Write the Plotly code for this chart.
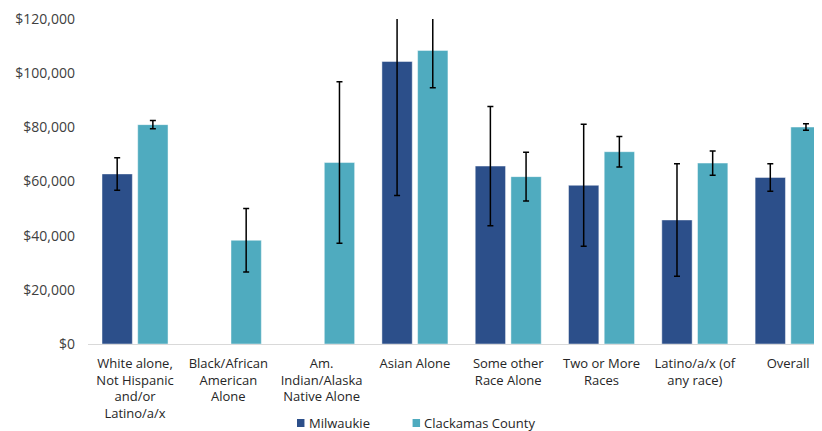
import plotly.graph_objects as go

categories = [
    "White alone,<br>Not Hispanic<br>and/or<br>Latino/a/x",
    "Black/African<br>American<br>Alone",
    "Am.<br>Indian/Alaska<br>Native Alone",
    "Asian Alone",
    "Some other<br>Race Alone",
    "Two or More<br>Races",
    "Latino/a/x (of<br>any race)",
    "Overall",
]
milwaukie = [62800, None, None, 104300, 65700, 58600, 45800, 61500]
milwaukie_err = [6000, None, None, 49500, 22000, 22500, 20800, 5100]
clackamas = [81000, 38300, 67000, 108400, 61800, 71000, 66800, 80100]
clackamas_err = [1500, 11700, 29800, 13800, 9000, 5600, 4500, 1200]
series_names = ["Milwaukie", "Clackamas County"]

c_mil = "#2C4F8A"
c_cla = "#4FABBF"
font_family = "Open Sans, Liberation Sans, Arial, sans-serif"

fig = go.Figure()
fig.add_trace(go.Bar(
    name=series_names[0], x=categories, y=milwaukie,
    marker=dict(color=c_mil, line=dict(color="rgba(255,255,255,0.45)", width=1)),
    error_y=dict(type="data", array=milwaukie_err, color="black", thickness=1.5, width=3),
))
fig.add_trace(go.Bar(
    name=series_names[1], x=categories, y=clackamas,
    marker=dict(color=c_cla, line=dict(color="rgba(255,255,255,0.45)", width=1)),
    error_y=dict(type="data", array=clackamas_err, color="black", thickness=1.5, width=3),
))

# custom legend (squares + labels) placed below the plot
legend_items = [
    (series_names[0], c_mil, 0.2847, 0.2997),
    (series_names[1], c_cla, 0.4422, 0.4559),
]
sq_w = 0.0102
y_top, y_bot = -0.2307, -0.2554
for name, col, xs, xt in legend_items:
    fig.add_shape(type="rect", xref="paper", yref="paper",
                  x0=xs, x1=xs + sq_w, y0=y_bot, y1=y_top,
                  fillcolor=col, line=dict(width=0))
    fig.add_annotation(xref="paper", yref="paper", x=xt, y=-0.2430,
                       xanchor="left", yanchor="middle", text=name, showarrow=False,
                       borderpad=0, font=dict(family=font_family, size=13, color="#262626"))

fig.update_layout(
    width=814, height=423,
    margin=dict(l=80, r=0, t=11, b=87),
    paper_bgcolor="white", plot_bgcolor="white",
    barmode="group", bargap=0.235, bargroupgap=0.15,
    font=dict(family=font_family, size=13, color="#262626"),
    showlegend=False,
    xaxis=dict(range=[-0.504, 7.363], showline=True, linecolor="#d9d9d9", linewidth=1,
               ticks="", showgrid=False, ticklabelstandoff=7,
               tickfont=dict(size=13, color="#262626")),
    yaxis=dict(range=[0, 120000], dtick=20000, tickprefix="$", tickformat=",d",
               showgrid=False, zeroline=False, showline=False, ticks="",
               ticklabelstandoff=12,
               tickfont=dict(size=14, color="#404040")),
)

fig.write_html("out.html")
